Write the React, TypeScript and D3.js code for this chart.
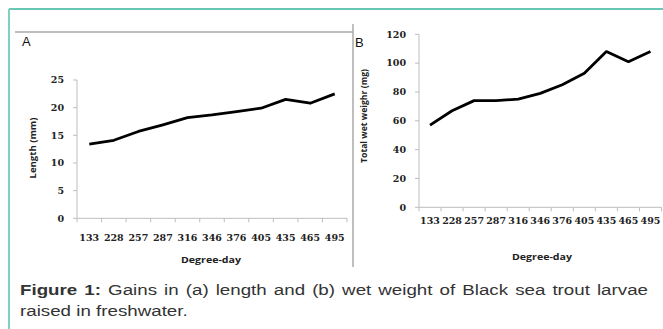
import React, { useEffect, useRef } from "react";
import * as d3 from "d3";

const categories = ["133", "228", "257", "287", "316", "346", "376", "405", "435", "465", "495"];
const lengthValues = [13.4, 14.1, 15.7, 16.9, 18.2, 18.7, 19.3, 19.9, 21.5, 20.8, 22.5];
const weightValues = [57, 67, 74, 74, 75, 79, 85, 93, 108, 101, 108];
const lengthTicks = [0, 5, 10, 15, 20, 25];
const weightTicks = [0, 20, 40, 60, 80, 100, 120];

const W = 663;
const H = 329;
const CAP_SX = 1.25;

type PanelProps = {
  left: number; right: number; top: number; bottom: number;
  yMax: number; ticks: number[]; values: number[];
  yTitle: string; yTitleX: number; yTitleY: number; yTitleLen: number;
  xLabelY: number; xTitleX: number; xTitleY: number;
};

function Panel(p: PanelProps) {
  const x = d3.scaleBand<string>().domain(categories).range([p.left, p.right]).padding(0);
  const y = d3.scaleLinear().domain([0, p.yMax]).range([p.bottom, p.top]);
  const line = d3.line<number>()
    .x((_, i) => (x(categories[i]) as number) + x.bandwidth() / 2)
    .y((d) => y(d));
  const boundaries = categories.map((c) => x(c) as number).concat([p.right]);
  const axisColor = "#bdbdbd";
  return (
    <g>
      <line x1={p.left} x2={p.left} y1={p.top} y2={p.bottom} stroke={axisColor} strokeWidth={1} />
      <line x1={p.left} x2={p.right} y1={p.bottom} y2={p.bottom} stroke={axisColor} strokeWidth={1} />
      {p.ticks.map((t) => (
        <g key={t}>
          <line x1={p.left - 4} x2={p.left} y1={y(t)} y2={y(t)} stroke={axisColor} />
          <text x={p.left - 13} y={y(t)} dy="0.35em" textAnchor="end"
            fontFamily="'DejaVu Serif', serif" fontWeight="bold" fontSize={9.5} fill="#222">{t}</text>
        </g>
      ))}
      {boundaries.map((b, i) => (
        <line key={i} x1={b} x2={b} y1={p.bottom} y2={p.bottom + 4} stroke={axisColor} />
      ))}
      {categories.map((c) => (
        <text key={c} x={(x(c) as number) + x.bandwidth() / 2} y={p.xLabelY} textAnchor="middle"
          fontFamily="'DejaVu Serif', serif" fontWeight="bold" fontSize={9.5} fill="#222">{c}</text>
      ))}
      <text x={p.xTitleX} y={p.xTitleY} textAnchor="middle" fontFamily="'Open Sans', sans-serif"
        fontWeight="bold" fontSize={9} fill="#222" textLength={60} lengthAdjust="spacingAndGlyphs">Degree-day</text>
      <text transform={`translate(${p.yTitleX},${p.yTitleY}) rotate(-90)`} textAnchor="middle"
        dy="0.35em" fontFamily="'Open Sans', sans-serif" fontWeight="bold" fontSize={8.5} fill="#222"
        textLength={p.yTitleLen} lengthAdjust="spacingAndGlyphs">{p.yTitle}</text>
      <path d={line(p.values) || ""} fill="none" stroke="#000" strokeWidth={2.8} strokeLinejoin="round" />
    </g>
  );
}

export default function App() {
  const capRef = useRef<SVGTextElement>(null);
  useEffect(() => {
    const el = capRef.current;
    if (!el) return;
    el.setAttribute("word-spacing", "0");
    const natural = el.getComputedTextLength();
    const target = 628 / CAP_SX;
    const spaces = (el.textContent || "").trim().split(/\s+/).length - 1;
    const ws = Math.max(0, (target - natural) / spaces);
    el.setAttribute("word-spacing", String(ws));
  }, []);
  return (
    <svg width={W} height={H} style={{ position: "absolute", left: 0, top: 0, background: "#fff" }}>
      <rect x={0} y={0} width={W} height={H} fill="#fff" />
      <line x1={9} x2={W} y1={9} y2={9} stroke="#35b59b" strokeWidth={1.5} />
      <line x1={9} x2={9} y1={9} y2={H} stroke="#7fd1bf" strokeWidth={2} />
      <line x1={15} x2={353} y1={32} y2={32} stroke="#aaaaaa" strokeWidth={1.5} />
      <line x1={353} x2={353} y1={24} y2={267} stroke="#aaaaaa" strokeWidth={1.5} />
      <text x={22} y={46} fontFamily="'Liberation Sans', Arial, sans-serif" fontSize={13} fill="#111">A</text>
      <text x={355} y={46.5} fontFamily="'Liberation Sans', Arial, sans-serif" fontSize={13} fill="#111">B</text>
      <Panel left={77} right={347} top={80} bottom={218.3} yMax={25} ticks={lengthTicks} values={lengthValues}
        yTitle="Length (mm)" yTitleX={33} yTitleY={148} yTitleLen={61}
        xLabelY={240.5} xTitleX={211} xTitleY={263} />
      <Panel left={419} right={661.5} top={34.3} bottom={207.3} yMax={120} ticks={weightTicks} values={weightValues}
        yTitle="Total wet weighr (mg)" yTitleX={364} yTitleY={116} yTitleLen={94}
        xLabelY={223.5} xTitleX={542} xTitleY={260} />
      <g transform={`translate(20,0) scale(${CAP_SX},1)`}>
        <text ref={capRef} x={0} y={295.5} fontFamily="'Liberation Sans', Arial, sans-serif" fontSize={15} fill="#333">
          <tspan fontWeight="bold">Figure 1:</tspan> Gains in (a) length and (b) wet weight of Black sea trout larvae
        </text>
        <text x={0} y={316.5} fontFamily="'Liberation Sans', Arial, sans-serif" fontSize={15} fill="#333">
          raised in freshwater.
        </text>
      </g>
    </svg>
  );
}
